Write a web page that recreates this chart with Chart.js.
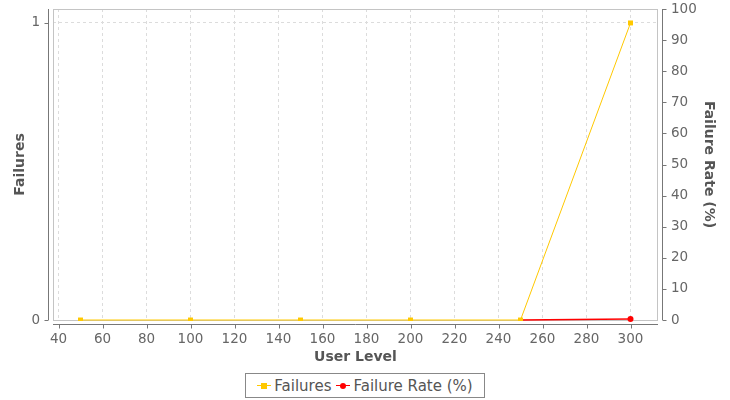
<!DOCTYPE html>
<html>
<head>
<meta charset="utf-8">
<script src="https://cdn.jsdelivr.net/npm/chart.js@4"></script>
<style>
  body { margin: 0; background: #fff; font-family: 'DejaVu Sans', sans-serif; }
  #wrap { position: relative; width: 730px; height: 400px; }
  #legend {
    position: absolute; left: 245px; top: 373px; width: 238px; height: 23px;
    border: 1px solid #888; font-size: 15px; color: #555;
    display: flex; align-items: center; justify-content: center; gap: 5px;
  }
  .item { display: inline-flex; align-items: center; }
  .mark { position: relative; width: 14px; height: 10px; margin-right: 3px; }
  .mark .ln { position: absolute; left: 0; right: 0; top: 4.5px; height: 1px; }
  .mark .pt { position: absolute; left: 4px; top: 2px; width: 6px; height: 6px; }
</style>
</head>
<body>
<div id="wrap">
  <canvas id="chart" width="730" height="366"></canvas>
  <div id="legend">
    <span class="item"><span class="mark"><span class="ln" style="background:#ffc800"></span><span class="pt" style="background:#ffc800"></span></span>Failures</span>
    <span class="item"><span class="mark"><span class="ln" style="background:#ff0000"></span><span class="pt" style="background:#ff0000;border-radius:50%"></span></span>Failure Rate (%)</span>
  </div>
</div>
<script>
const userLevels = [50, 100, 150, 200, 250, 300];
const failures = [0, 0, 0, 0, 0, 1];
const failureRate = [0, 0, 0, 0, 0, 0.33];
const xTicks = [40, 60, 80, 100, 120, 140, 160, 180, 200, 220, 240, 260, 280, 300];
const failureTicks = [0, 1];
const rateTicks = [0, 10, 20, 30, 40, 50, 60, 70, 80, 90, 100];

const tickFont = { family: 'DejaVu Sans', size: 13.5 };
const titleFont = { family: 'DejaVu Sans', size: 14, weight: 'bold' };

const noPad = s => { s.paddingTop = 0; s.paddingBottom = 0; s.paddingLeft = 0; s.paddingRight = 0; };

// plot border + offset axis lines, jfreechart style
const frame = {
  id: 'frame',
  beforeDatasetsDraw(chart) {
    const { ctx, chartArea: a } = chart;
    ctx.save();
    ctx.strokeStyle = '#c4c4c4';
    ctx.lineWidth = 1;
    ctx.strokeRect(a.left + 0.5, a.top + 0.5, a.right - a.left - 1, a.bottom - a.top);
    ctx.restore();
  },
  afterDraw(chart) {
    const { ctx, chartArea: a, scales } = chart;
    ctx.save();
    ctx.strokeStyle = '#777';
    ctx.lineWidth = 1;
    ctx.beginPath();
    const lx = a.left - 4.5, rx = a.right + 4.5, by = a.bottom + 4.5;
    ctx.moveTo(lx, a.top); ctx.lineTo(lx, a.bottom);
    ctx.moveTo(rx, a.top); ctx.lineTo(rx, a.bottom);
    ctx.moveTo(a.left, by); ctx.lineTo(a.right, by);
    failureTicks.forEach(v => {
      const y = Math.round(scales.y.getPixelForValue(v)) + 0.5;
      ctx.moveTo(lx, y); ctx.lineTo(lx - 4, y);
    });
    rateTicks.forEach(v => {
      const y = Math.round(scales.y1.getPixelForValue(v)) + 0.5;
      ctx.moveTo(rx, y); ctx.lineTo(rx + 4, y);
    });
    xTicks.forEach(v => {
      const x = Math.round(scales.x.getPixelForValue(v)) + 0.5;
      ctx.moveTo(x, by); ctx.lineTo(x, by + 4);
    });
    ctx.stroke();
    ctx.restore();
  }
};

new Chart(document.getElementById('chart'), {
  type: 'line',
  data: {
    datasets: [
      {
        label: 'Failures',
        data: userLevels.map((x, i) => ({ x, y: failures[i] })),
        borderColor: '#ffc800',
        backgroundColor: '#ffc800',
        borderWidth: 1,
        pointStyle: 'rect',
        pointRadius: 3.5,
        pointBorderWidth: 0,
        yAxisID: 'y',
        clip: 1
      },
      {
        label: 'Failure Rate (%)',
        data: userLevels.map((x, i) => ({ x, y: failureRate[i] })),
        borderColor: '#ff0000',
        backgroundColor: '#ff0000',
        borderWidth: 1.5,
        pointStyle: 'circle',
        pointRadius: [0, 0, 0, 0, 0, 3],
        pointBorderWidth: 0,
        // hidden under the failures line in the original
        segment: { borderColor: c => c.p1DataIndex < 5 ? 'rgba(0,0,0,0)' : undefined },
        yAxisID: 'y1',
        clip: 3
      }
    ]
  },
  options: {
    responsive: false,
    animation: false,
    layout: { padding: { top: 9, left: 0, right: 0, bottom: 0 } },
    plugins: { legend: { display: false }, tooltip: { enabled: false } },
    scales: {
      x: {
        type: 'linear',
        min: 37.5,
        max: 312.5,
        afterBuildTicks: s => { s.ticks = xTicks.map(v => ({ value: v })); },
        afterFit: s => { s.height = 46; noPad(s); },
        grid: { color: '#dcdcdc', drawTicks: false },
        border: { display: false, dash: [3, 3] },
        ticks: { font: tickFont, color: '#666', padding: 11, maxRotation: 0, autoSkip: false },
        title: { display: true, text: 'User Level', font: titleFont, color: '#555', padding: 0 }
      },
      y: {
        position: 'left',
        min: 0,
        max: 1.047,
        afterBuildTicks: s => { s.ticks = failureTicks.map(v => ({ value: v })); },
        afterFit: s => { s.width = 53; noPad(s); },
        grid: { color: '#dcdcdc', drawTicks: false },
        border: { display: false, dash: [3, 3] },
        ticks: { font: tickFont, color: '#666', padding: 13 },
        title: { display: true, text: 'Failures', font: titleFont, color: '#555', padding: { top: 12 } }
      },
      y1: {
        position: 'right',
        min: 0,
        max: 100,
        afterBuildTicks: s => { s.ticks = rateTicks.map(v => ({ value: v })); },
        afterFit: s => { s.width = 72; noPad(s); },
        grid: { display: false, drawTicks: false },
        border: { display: false },
        ticks: { font: tickFont, color: '#666', padding: 13 },
        title: { display: true, text: 'Failure Rate (%)', font: titleFont, color: '#555', padding: { top: 13 } }
      }
    }
  },
  plugins: [frame]
});
</script>
</body>
</html>
